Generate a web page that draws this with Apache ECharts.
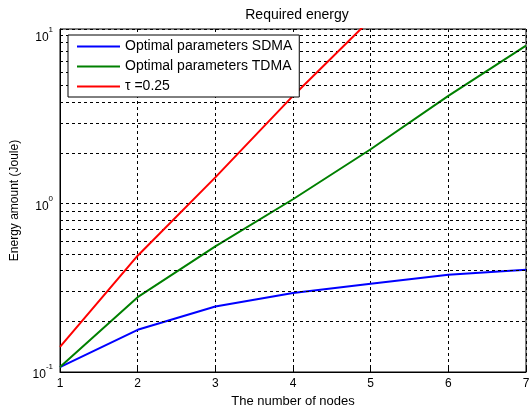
<!DOCTYPE html>
<html>
<head>
<meta charset="utf-8">
<script src="https://cdn.jsdelivr.net/npm/echarts@6/dist/echarts.min.js"></script>
<style>
html,body{margin:0;padding:0;background:#fff;}
#chart{width:529px;height:408px;}
</style>
</head>
<body>
<div id="chart"></div>
<script>
var nodes = [1, 2, 3, 4, 5, 6, 7];
var sdma = [0.107, 0.178, 0.245, 0.294, 0.334, 0.378, 0.405];
var tdma = [0.107, 0.278, 0.557, 1.06, 2.10, 4.35, 8.64];
var tau = [0.141, 0.49, 1.43, 4.35, 12.4];
var minorLevels = [0.2, 0.3, 0.4, 0.5, 0.6, 0.7, 0.8, 0.9, 2, 3, 4, 5, 6, 7, 8, 9];

var font = 'Liberation Sans';
var dash = [3, 3];

function pairs(xs, ys) {
	var out = [];
	for (var i = 0; i < ys.length; i++) {
		out.push([xs[i], ys[i]]);
	}
	return out;
}

var myChart = echarts.init(document.getElementById('chart'));
var option = {
	animation: false,
	backgroundColor: '#fff',
	title: {
		text: 'Required energy',
		left: 292,
		textAlign: 'center',
		top: 3,
		textStyle: {fontFamily: font, fontSize: 14, fontWeight: 'normal', color: '#000'}
	},
	legend: {
		orient: 'vertical',
		left: 68,
		top: 35,
		z: 10,
		padding: [4, 7, 3, 9],
		itemGap: 5,
		itemWidth: 43,
		itemHeight: 2,
		icon: 'rect',
		borderColor: '#000',
		borderWidth: 1,
		backgroundColor: '#fff',
		textStyle: {fontFamily: font, fontSize: 14, lineHeight: 15, color: '#000'},
		data: ['Optimal parameters SDMA', 'Optimal parameters TDMA', 'τ =0.25']
	},
	grid: {
		left: 60, right: 3, top: 29, bottom: 36,
		outerBoundsMode: 'none',
		containLabel: false,
		show: true, borderColor: '#000', borderWidth: 1
	},
	xAxis: {
		type: 'value',
		min: 1, max: 7, interval: 1,
		name: 'The number of nodes',
		nameLocation: 'middle',
		nameGap: 21,
		nameTextStyle: {fontFamily: font, fontSize: 13, color: '#000'},
		axisLine: {lineStyle: {color: '#000'}},
		axisTick: {inside: true, length: 5, lineStyle: {color: '#000'}},
		axisLabel: {fontFamily: font, fontSize: 12, color: '#000', margin: 6},
		splitLine: {show: true, lineStyle: {color: '#000', type: dash}}
	},
	yAxis: {
		type: 'log',
		min: 0.1,
		max: Math.pow(10, 1 + 6 / 168),
		name: 'Energy amount (Joule)',
		nameLocation: 'middle',
		nameGap: 39,
		nameTextStyle: {fontFamily: font, fontSize: 12, color: '#000'},
		axisLine: {lineStyle: {color: '#000'}},
		axisTick: {show: false},
		axisLabel: {
			fontFamily: font, color: '#000', margin: 7,
			formatter: function (v) {
				var p = Math.log10(v);
				if (Math.abs(p - Math.round(p)) > 1e-6) return '';
				return '{b|10}{s|' + Math.round(p) + '}';
			},
			rich: {
				b: {fontFamily: font, fontSize: 12, color: '#000', verticalAlign: 'bottom', lineHeight: 18},
				s: {fontFamily: font, fontSize: 8, color: '#000', verticalAlign: 'top', lineHeight: 18}
			}
		},
		splitLine: {show: true, lineStyle: {color: '#000', type: dash}}
	},
	series: [
		{
			name: 'Optimal parameters SDMA',
			type: 'line',
			data: pairs(nodes, sdma),
			showSymbol: false,
			color: '#0000ff',
			lineStyle: {width: 2},
			markLine: {
				silent: true,
				symbol: 'none',
				label: {show: false},
				lineStyle: {color: '#000', type: dash, width: 1},
				data: minorLevels.map(function (v) { return {yAxis: v}; })
			},
			z: 3
		},
		{
			name: 'Optimal parameters TDMA',
			type: 'line',
			data: pairs(nodes, tdma),
			showSymbol: false,
			color: '#008000',
			lineStyle: {width: 2},
			z: 4
		},
		{
			name: 'τ =0.25',
			type: 'line',
			data: pairs(nodes, tau),
			showSymbol: false,
			color: '#ff0000',
			lineStyle: {width: 2},
			z: 5
		}
	]
};
myChart.setOption(option);
</script>
</body>
</html>
